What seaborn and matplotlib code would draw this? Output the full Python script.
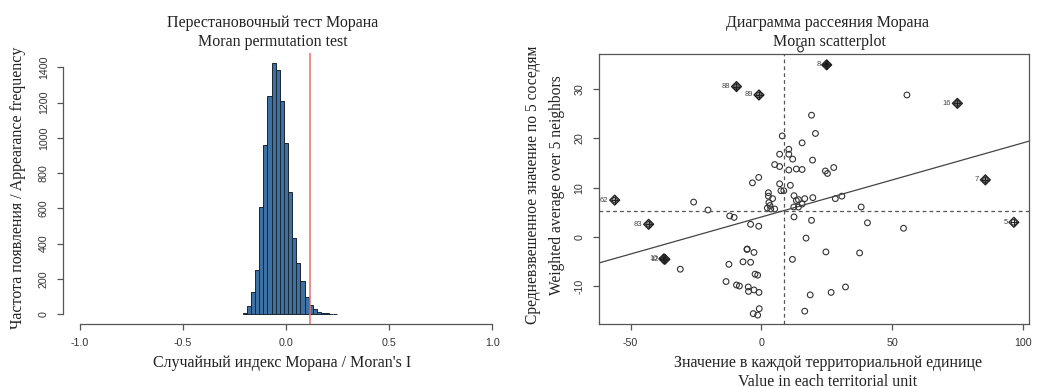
import numpy as np
import pandas as pd
import matplotlib
matplotlib.use("Agg")
import matplotlib.pyplot as plt
import seaborn as sns

# ---------------- data ----------------
# Left: permutation histogram (bin edges and counts)
bin_edges = [-0.21, -0.19, -0.17, -0.15, -0.13, -0.11, -0.09, -0.07, -0.05, -0.03,
             -0.01, 0.01, 0.03, 0.05, 0.07, 0.09, 0.11, 0.13, 0.15, 0.17, 0.19,
             0.21, 0.23, 0.25]
bin_counts = [5, 43, 127, 252, 609, 961, 1237, 1423, 1387, 1207, 972, 690,
              429, 289, 185, 95, 53, 28, 13, 5, 3, 2, 1]
observed_I = 0.119
hist_xticks = [-1.0, -0.5, 0.0, 0.5, 1.0]
hist_yticks = [0, 200, 400, 600, 800, 1000, 1200, 1400]

# Right: Moran scatterplot
pts_x = [55.7, 19.2, 20.7, 8.0, 15.6, 10.5, 7.0, 10.5, 12.0, 19.6, 5.1, 7.0, 10.5,
         13.4, 15.6, 24.5, 25.3, 27.7, -1.0, -3.4, 7.0, 11.1, 7.5, 8.6, 2.7, 2.7,
         12.5, 4.3, 16.6, 19.7, 13.4, 14.2, 28.3, 30.8, -25.9, 2.9, 3.3, 15.6, 12.4,
         14.2, 2.3, 3.6, 5.1, -20.4, 38.2, -12.1, -10.4, 12.5, 19.2, 40.6, -4.1, -1.0,
         54.4, 17.1, -5.5, -2.8, 24.7, 37.6, 11.9, -7.0, -4.1, -12.4, -31.0, -2.4,
         -1.4, -13.5, -9.5, -8.4, -5.0, -2.8, -4.9, -0.9, 32.2, 26.7, 18.7, -0.8,
         16.6, -3.1, -1.4, 15.0, -5.4]
pts_y = [28.8, 24.7, 21.0, 20.5, 19.1, 17.8, 16.8, 16.8, 15.8, 15.6, 14.7, 14.3, 13.6,
         13.8, 13.7, 13.4, 12.9, 14.1, 12.1, 11.0, 10.8, 10.5, 9.4, 9.4, 9.0, 8.3,
         8.4, 7.8, 7.8, 8.0, 7.4, 7.6, 7.8, 8.3, 7.1, 7.0, 6.4, 6.7, 6.1,
         6.1, 5.9, 5.7, 5.7, 5.5, 6.1, 4.3, 4.0, 4.1, 3.4, 2.9, 2.6, 2.2,
         1.8, -0.2, -2.5, -3.1, -3.0, -3.2, -4.5, -5.0, -5.1, -5.5, -6.5, -7.5,
         -7.7, -9.0, -9.7, -9.9, -10.1, -10.7, -11.0, -11.2, -10.1, -11.2, -11.7, -14.5,
         -15.0, -15.5, -15.8, 38.1, -2.4]

inf_x = [25.0, -9.5, -0.9, 75.0, 85.7, -56.1, -43.1, 96.6, -36.9, -37.3]
inf_y = [34.9, 30.5, 28.8, 27.1, 11.6, 7.5, 2.6, 3.0, -4.5, -4.4]
inf_labels = ["8", "88", "89", "16", "7", "62", "83", "5", "12", "10"]
inf_fill = ["#111111", "#777777", "#888888", "#777777", "#888888", "#aaaaaa",
            "#999999", "#ffffff", "#111111", "#111111"]

mean_x = 8.8
mean_y = 5.27
reg_slope = 0.150
reg_intercept = 4.08
sc_xticks = [-50, 0, 50, 100]
sc_yticks = [-10, 0, 10, 20, 30]

# ---------------- style ----------------
sns.set_theme(style="white")
plt.rcParams["font.family"] = ["Liberation Serif", "DejaVu Serif"]
SANS = ["Liberation Sans", "DejaVu Sans"]
AXC = "#555555"
TXT = "#222222"

W, H = 1045, 388
fig = plt.figure(figsize=(W / 100, H / 100), dpi=100)

def fx(px):
    return px / W

def fy(py):
    return 1 - py / H

# ---------------- left: histogram ----------------
ax1 = fig.add_axes([fx(63.3), fy(324), fx(508.6) - fx(63.3), fy(53.3) - fy(324)])
centers = [(a + b) / 2 for a, b in zip(bin_edges[:-1], bin_edges[1:])]
hdf = pd.DataFrame({"I": centers, "n": bin_counts})
sns.histplot(data=hdf, x="I", weights="n", bins=list(bin_edges), ax=ax1,
             color="#3d70a3", edgecolor="#1a2633", linewidth=0.7, alpha=1.0)
ax1.axvline(observed_I, color="#e8706f", lw=1.1)
ax1.set_xlim(-1.08, 1.08)
ax1.set_ylim(-57, 1480)
for s in ["top", "right"]:
    ax1.spines[s].set_visible(False)
ax1.spines["left"].set_bounds(0, 1400)
ax1.spines["bottom"].set_bounds(-1, 1)
for s in ["left", "bottom"]:
    ax1.spines[s].set_color(AXC)
    ax1.spines[s].set_linewidth(0.9)
ax1.set_xticks(hist_xticks)
ax1.set_xticklabels([f"{v:.1f}" for v in hist_xticks], family=SANS, fontsize=7.7, color="#333333")
ax1.set_yticks(hist_yticks)
ax1.set_yticklabels([str(v) for v in hist_yticks], family=SANS, fontsize=7.7,
                    color="#333333", rotation=90, va="center")
ax1.tick_params(axis="both", length=4.3, width=0.9, color=AXC, bottom=True, left=True)
ax1.tick_params(axis="x", pad=6)
ax1.tick_params(axis="y", pad=6)
ax1.set_xlabel("")
ax1.set_ylabel("")

fig.text(fx(273), fy(23), "Перестановочный тест Морана", ha="center", va="center",
         fontsize=11.5, color=TXT)
fig.text(fx(273), fy(42), "Moran permutation test", ha="center", va="center",
         fontsize=11.5, color=TXT)
fig.text(fx(282), fy(363), "Случайный индекс Морана / Moran's I", ha="center", va="center",
         fontsize=11.5, color=TXT)
fig.text(fx(18), fy(188), "Частота появления / Appearance frequency", ha="center", va="center",
         rotation=90, fontsize=11.5, color=TXT)

# ---------------- right: Moran scatterplot ----------------
ax2 = fig.add_axes([fx(599), fy(324), fx(1029) - fx(599), fy(54) - fy(324)])
sdf = pd.DataFrame({"x": pts_x, "y": pts_y})
sns.scatterplot(data=sdf, x="x", y="y", ax=ax2, marker="o", s=17,
                facecolor="none", edgecolor="#333333", linewidth=0.8, clip_on=False)
idf = pd.DataFrame({"x": inf_x, "y": inf_y, "fill": inf_fill})
sns.scatterplot(data=idf, x="x", y="y", ax=ax2, marker="D", s=26,
                facecolor=idf["fill"].tolist(), edgecolor="#222222", linewidth=0.9)
sns.scatterplot(data=idf, x="x", y="y", ax=ax2, marker="o", s=16,
                facecolor="none", edgecolor="#333333", linewidth=0.8)
sns.scatterplot(data=idf, x="x", y="y", ax=ax2, marker="+", s=40,
                color="#222222", linewidth=0.8)
for xv, yv, lab in zip(inf_x, inf_y, inf_labels):
    ax2.annotate(lab, (xv, yv), xytext=(-4.5, 0), textcoords="offset points",
                 ha="right", va="center", fontsize=5.5, family=SANS, color="#444444")

ax2.axvline(mean_x, color="#555555", lw=0.9, ls=(0, (3, 2.5)))
ax2.axhline(mean_y, color="#555555", lw=0.9, ls=(0, (3, 2.5)))
ax2.axline((0, reg_intercept), slope=reg_slope, color="#444444", lw=0.9)

ax2.set_xlim(-62.1, 102.4)
ax2.set_ylim(-17.6, 37.1)
for s in ["top", "right", "left", "bottom"]:
    ax2.spines[s].set_visible(True)
    ax2.spines[s].set_color(AXC)
    ax2.spines[s].set_linewidth(0.9)
ax2.set_xticks(sc_xticks)
ax2.set_xticklabels([str(v) for v in sc_xticks], family=SANS, fontsize=7.7, color="#333333")
ax2.set_yticks(sc_yticks)
ax2.set_yticklabels([str(v) for v in sc_yticks], family=SANS, fontsize=7.7,
                    color="#333333", rotation=90, va="center")
ax2.tick_params(axis="both", length=4.3, width=0.9, color=AXC, bottom=True, left=True)
ax2.tick_params(axis="x", pad=6)
ax2.tick_params(axis="y", pad=6)
ax2.set_xlabel("")
ax2.set_ylabel("")

fig.text(fx(828), fy(23), "Диаграмма рассеяния Морана", ha="center", va="center",
         fontsize=11.5, color=TXT)
fig.text(fx(829), fy(42), "Moran scatterplot", ha="center", va="center",
         fontsize=11.5, color=TXT)
fig.text(fx(828), fy(363), "Значение в каждой территориальной единице", ha="center",
         va="center", fontsize=11.5, color=TXT)
fig.text(fx(828), fy(382), "Value in each territorial unit", ha="center",
         va="center", fontsize=11.5, color=TXT)
fig.text(fx(533), fy(185), "Средневзвешенное значение по 5 соседям", ha="center",
         va="center", rotation=90, fontsize=11.2, color=TXT)
fig.text(fx(557), fy(185), "Weighted average over 5 neighbors", ha="center",
         va="center", rotation=90, fontsize=11.2, color=TXT)

fig.savefig("out.png", dpi=100)
